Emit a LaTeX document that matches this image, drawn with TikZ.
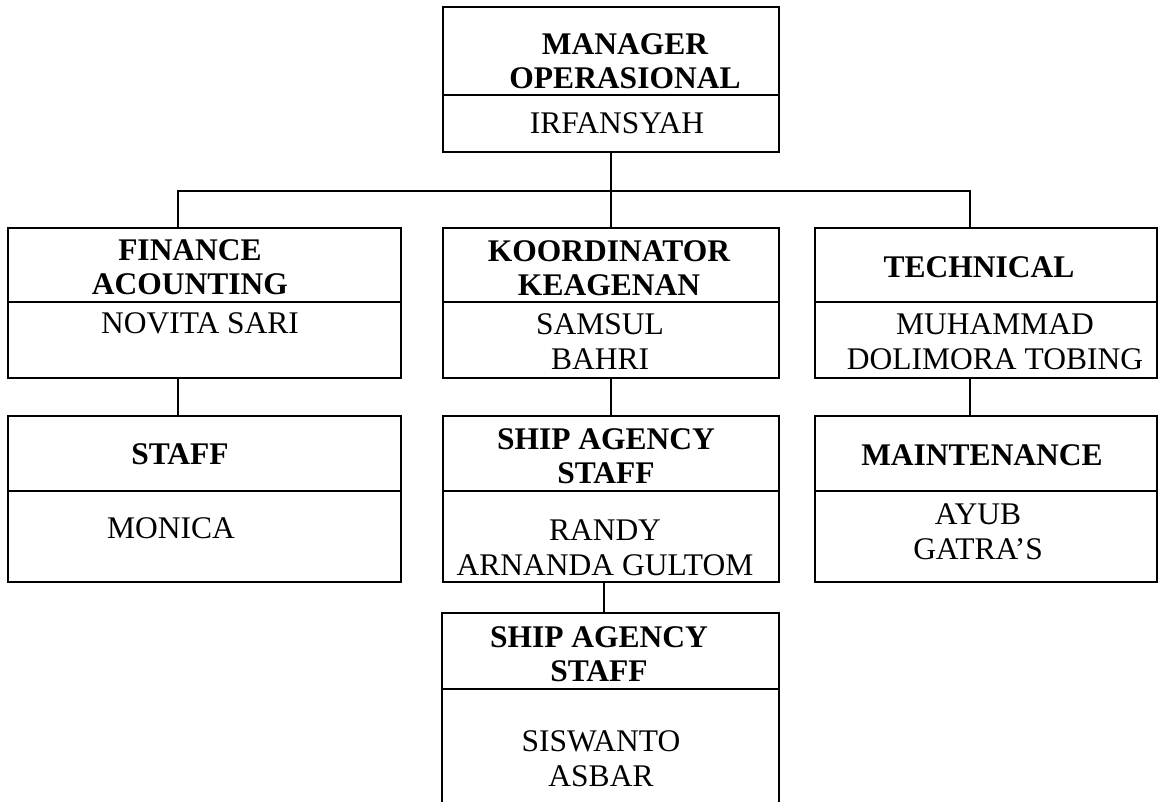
\documentclass[tikz,border=0pt]{standalone}
\usepackage{fontspec}
\setmainfont{Liberation Serif}

\begin{document}
\begin{tikzpicture}[x=1pt, y=-1pt,
    cell/.style={draw, line width=2.2pt, inner sep=0pt, outer sep=0pt},
    headtxt/.style={font=\fontsize{31.5}{34}\selectfont\bfseries, align=center, inner sep=0pt},
    persontxt/.style={font=\fontsize{31.5}{35}\selectfont, align=center, inner sep=0pt},
    link/.style={line width=2.2pt}]
    \useasboundingbox (0,0) rectangle (1158,801);
    \clip (0,0) rectangle (1158,801);

    % manager
    \node[cell, minimum width=336, minimum height=88] (mgrH) at (611,51) {};
    \node[cell, minimum width=336, minimum height=57] (mgrN) at (611,123.5) {};
    \node[headtxt] (mgrT) at (625,61) {MANAGER\\OPERASIONAL};
    \node[persontxt] (mgrP) at (617,123) {IRFANSYAH};

    % second row
    \node[cell, minimum width=393, minimum height=74] (finH) at (204.5,265) {};
    \node[cell, minimum width=393, minimum height=76] (finN) at (204.5,340) {};
    \node[headtxt] (finT) at (190,267.5) {FINANCE\\ACOUNTING};
    \node[persontxt] (finP) at (200,323) {NOVITA SARI};

    \node[cell, minimum width=336, minimum height=74] (korH) at (611,265) {};
    \node[cell, minimum width=336, minimum height=76] (korN) at (611,340) {};
    \node[headtxt] (korT) at (609,268) {KOORDINATOR\\KEAGENAN};
    \node[persontxt] (korP) at (600,342) {SAMSUL\\BAHRI};

    \node[cell, minimum width=342, minimum height=74] (tecH) at (986,265) {};
    \node[cell, minimum width=342, minimum height=76] (tecN) at (986,340) {};
    \node[headtxt] (tecT) at (979,267) {TECHNICAL};
    \node[persontxt] (tecP) at (995,342) {MUHAMMAD\\DOLIMORA TOBING};

    % third row
    \node[cell, minimum width=393, minimum height=75] (stfH) at (204.5,453.5) {};
    \node[cell, minimum width=393, minimum height=91] (stfN) at (204.5,536.5) {};
    \node[headtxt] (stfT) at (180,454) {STAFF};
    \node[persontxt] (stfP) at (171,528) {MONICA};

    \node[cell, minimum width=336, minimum height=75] (shaH) at (611,453.5) {};
    \node[cell, minimum width=336, minimum height=91] (shaN) at (611,536.5) {};
    \node[headtxt] (shaT) at (606,456.5) {SHIP AGENCY\\STAFF};
    \node[persontxt] (shaP) at (605,548) {RANDY\\ARNANDA GULTOM};

    \node[cell, minimum width=342, minimum height=75] (mntH) at (986,453.5) {};
    \node[cell, minimum width=342, minimum height=91] (mntN) at (986,536.5) {};
    \node[headtxt] (mntT) at (982,455) {MAINTENANCE};
    \node[persontxt] (mntP) at (978,532) {AYUB\\GATRA'S};

    % last box, cut by the page
    \node[cell, minimum width=337, minimum height=76] (shbH) at (610.5,651) {};
    \node[cell, minimum width=337, minimum height=161] (shbN) at (610.5,769.5) {};
    \node[headtxt] (shbT) at (599,654.5) {SHIP AGENCY\\STAFF};
    \node[persontxt] (shbP) at (601,758.5) {SISWANTO\\ASBAR};

    % connectors
    \coordinate (busL) at (178,191);
    \coordinate (busR) at (970,191);
    \draw[link] (mgrN.south) -- (korH.north);
    \draw[link] (finH.north -| busL) -- (busL) -- (busR) -- (tecH.north -| busR);
    \draw[link] (finN.south -| busL) -- (stfH.north -| busL);
    \draw[link] (korN.south) -- (shaH.north);
    \draw[link] (tecN.south -| busR) -- (mntH.north -| busR);
    \draw[link] ([xshift=-7pt]shaN.south) -- ([xshift=-7pt]shaN.south |- shbH.north);
\end{tikzpicture}
\end{document}
